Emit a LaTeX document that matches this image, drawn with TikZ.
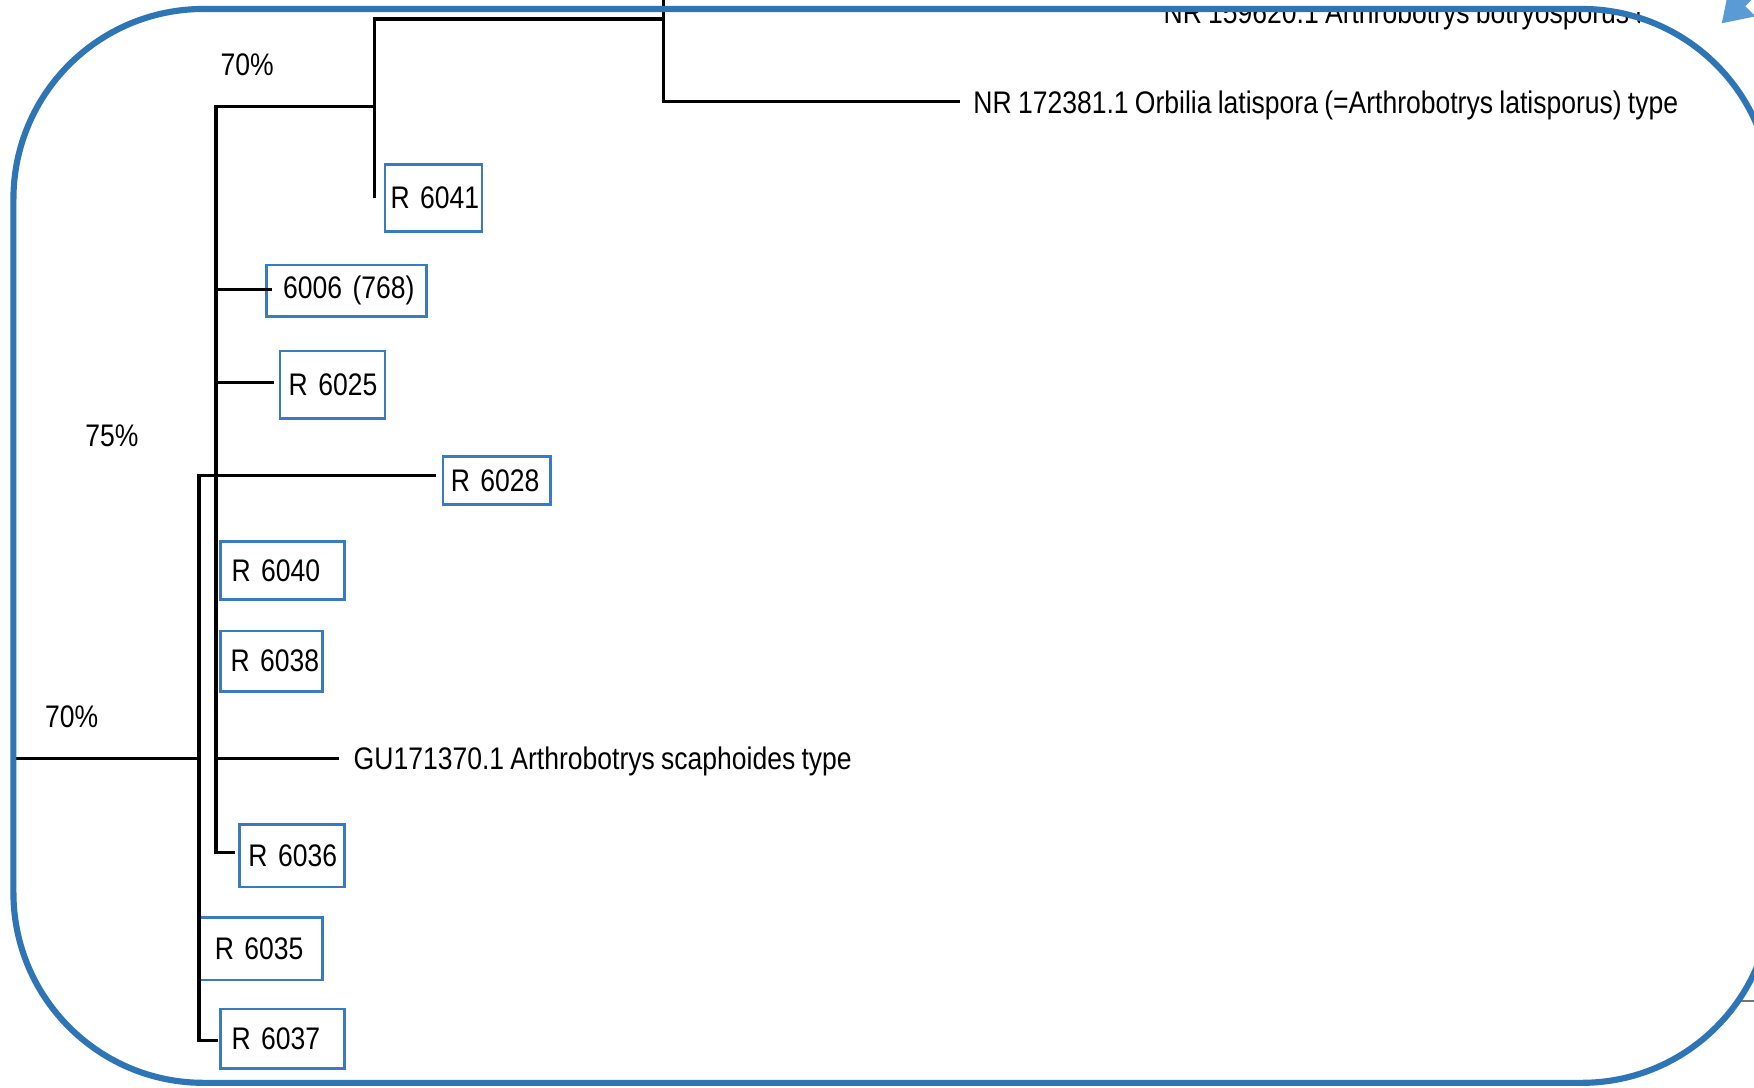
\documentclass[tikz,border=0pt]{standalone}
\usepackage{fontspec}
\setmainfont{Liberation Sans}[FakeStretch=0.85, WordSpace=0.85]
\usetikzlibrary{arrows.meta}
\definecolor{frameblue}{RGB}{46,117,182}
\definecolor{boxblue}{RGB}{58,122,190}
\definecolor{arrowblue}{RGB}{91,155,213}
\begin{document}
\begin{tikzpicture}[x=1pt,y=-1pt,
  every node/.style={font=\fontsize{27.9}{32}\selectfont, text=black},
  tree/.style={line width=3pt, black, line join=miter},
  leafbox/.style={draw=boxblue, line width=2.2pt, anchor=west, align=left, inner ysep=0pt},
  plain/.style={inner sep=0pt},
  frame/.style={draw=frameblue, line width=5.5pt, rounded corners=170pt}]
\useasboundingbox (0,0) rectangle (1568,972);

% ---- coordinates of the tree ----
\coordinate (r0) at (12,678);
\coordinate (r1) at (178,678);
\coordinate (o28) at (178,425);
\coordinate (o37) at (178,930);
\coordinate (i95) at (193,95);
\coordinate (i259) at (193,259);
\coordinate (i342) at (193,342);
\coordinate (i678) at (193,678);
\coordinate (i762) at (193,762);
\coordinate (a95) at (335,95);
\coordinate (a17) at (335,17);
\coordinate (a177) at (335,177);
\coordinate (b17) at (593,17);
\coordinate (btop) at (593,0);
\coordinate (b91) at (593,91);
\coordinate (e28) at (390,425);
\coordinate (e06) at (243,259);
\coordinate (e25) at (245,342);
\coordinate (egu) at (303,678);
\coordinate (enr) at (858,91);
\coordinate (e36) at (210,762);
\coordinate (e37) at (195,930);
\coordinate (gx0) at (1556,895);
\coordinate (gx1) at (1572,895);

% ---- leaf boxes ----
\node[leafbox, minimum height=60pt, inner xsep=5pt, text width=77pt] (b6041) at (343,177) {R~6041};
\node[leafbox, minimum height=46pt, inner xsep=15pt, text width=113pt] (b6006) at (237,260) {6006~(768)};
\node[leafbox, minimum height=60pt, inner xsep=8pt, text width=78pt] (b6025) at (249,344) {R~6025};
\node[leafbox, minimum height=43pt, inner xsep=7pt, text width=82pt] (b6028) at (395,429.5) {R~6028};
\node[leafbox, minimum height=52pt, inner xsep=10pt, text width=91pt] (b6040) at (196,510) {R~6040};
\node[leafbox, minimum height=54pt, inner xsep=9pt, text width=73pt] (b6038) at (196,591) {R~6038};
\node[leafbox, minimum height=56pt, inner xsep=8pt, text width=78pt] (b6036) at (213,765) {R~6036};
\node[leafbox, minimum height=56pt, inner xsep=15pt, text width=81pt] (b6035) at (176,848) {R~6035};
\node[leafbox, minimum height=53pt, inner xsep=10pt, text width=91pt] (b6037) at (196,928.5) {R~6037};

% ---- text leaves and labels ----
\node[plain, anchor=west] (tnr) at (870,94) {NR 172381.1 Orbilia latispora (=Arthrobotrys latisporus) type};
\node[plain, anchor=west] (tgu) at (316,681) {GU171370.1 Arthrobotrys scaphoides type};
\node[plain] (l70a) at (221,58) {70\%};
\node[plain] (l75) at (100,390) {75\%};
\node[plain] (l70b) at (64,641) {70\%};
\begin{scope}
  \clip (1000,11) rectangle (1466,40);
  \node[plain, anchor=base west] (ttop) at (1040,21) {NR 159620.1 Arthrobotrys botryosporus type};
\end{scope}

% ---- branches ----
\draw[tree] (r0) -- (r1);
\draw[tree] (e28) -- (o28) -- (o37) -- (e37);
\draw[tree] (e36) -- (i762) -- (i95) -- (a95);
\draw[tree] (a177) -- (a17) -- (b17);
\draw[tree] (btop) -- (b91) -- (enr);
\draw[tree] (i259) -- (e06);
\draw[tree] (i342) -- (e25);
\draw[tree] (i678) -- (egu);
\draw[line width=2pt, black!55] (gx0) -- (gx1);

% ---- frame and arrow ----
\draw[frame] (12,8) rectangle (1584,968);
\coordinate (arrs) at (1610,-50);
\coordinate (arrt) at (1539,21);
\draw[arrowblue, line width=8pt, -{Triangle[width=32pt,length=26pt]}] (arrs) -- (arrt);
\end{tikzpicture}
\end{document}
